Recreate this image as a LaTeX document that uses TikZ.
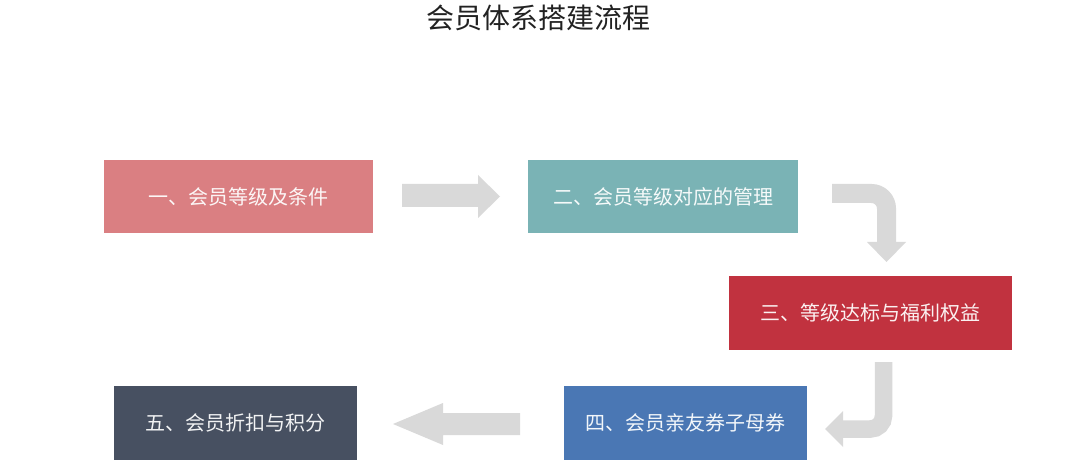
\documentclass[tikz,border=0pt]{standalone}
\usepackage{fontspec}
\newfontfamily\cjk{Noto Sans CJK SC}
\definecolor{cA}{HTML}{DA7F82}
\definecolor{cB}{HTML}{7AB3B5}
\definecolor{cC}{HTML}{C1323F}
\definecolor{cD}{HTML}{4A77B4}
\definecolor{cE}{HTML}{475061}
\definecolor{arrgray}{HTML}{D9D9D9}
\definecolor{titlecol}{HTML}{222222}
\tikzset{
  stagebox/.style={draw=none, fill=#1, text=white!93!#1, font=\cjk\fontsize{20}{24}\selectfont, inner sep=0pt, minimum height=73.5pt},
  arrfill/.style={fill=arrgray, draw=none},
  arrline/.style={draw=arrgray},
}
\begin{document}
\begin{tikzpicture}[x=1pt,y=-1pt]
\useasboundingbox (0,0) rectangle (1080,465);
\fill[white] (0,0) rectangle (1080,465);
\node[font=\cjk\fontsize{28}{32}\selectfont, text=titlecol] (title) at (538.5,18) {会员体系搭建流程};
\node[stagebox=cA, minimum width=269pt] (b1) at (238.5,196.5) {一、会员等级及条件};
\node[stagebox=cB, minimum width=270pt] (b2) at (663,196.5) {二、会员等级对应的管理};
\node[stagebox=cC, minimum width=283pt] (b3) at (870.5,313) {三、等级达标与福利权益};
\node[stagebox=cD, minimum width=243pt] (b4) at (685.5,423) {四、会员亲友券子母券};
\node[stagebox=cE, minimum width=243pt] (b5) at (235.5,423) {五、会员折扣与积分};
% arrow 1 -> 2
\fill[arrfill] (402,184) -- (478,184) -- (478,175) -- (500,196.5) -- (478,218) -- (478,207) -- (402,207) -- cycle;
% arrow 2 -> 3
\draw[arrline, line width=19pt, rounded corners=15pt] (832,193.5) -| (886.5,243);
\fill[arrfill] (867,242) -- (906,242) -- (886.5,262) -- cycle;
% arrow 3 -> 4
\draw[arrline, line width=17.5pt, rounded corners=13pt] (883.5,362) |- (842,429);
\fill[arrfill] (843,411) -- (843,447) -- (825,429) -- cycle;
% arrow 4 -> 5
\fill[arrfill] (520,413) -- (443,413) -- (443,403) -- (393,424) -- (443,445) -- (443,435) -- (520,435) -- cycle;
\end{tikzpicture}
\end{document}
